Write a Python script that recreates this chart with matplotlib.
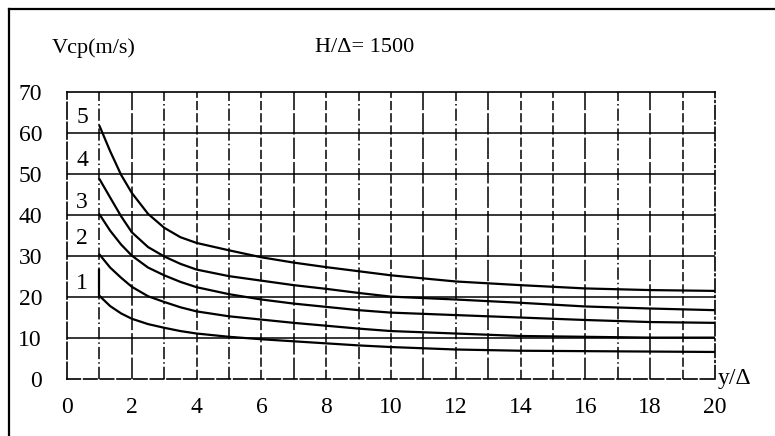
import numpy as np
import matplotlib
matplotlib.use('Agg')
import matplotlib.pyplot as plt
from matplotlib.lines import Line2D

plt.rcParams['font.family'] = ['Liberation Serif', 'DejaVu Serif']

# data
y_delta = [1, 1.33, 1.67, 2, 2.5, 3, 3.5, 4, 5, 6, 7, 8, 9, 10, 12, 14, 16, 18, 20]
v5 = [61.8, 55.6, 49.8, 45.4, 40.3, 36.9, 34.6, 33.2, 31.4, 29.7, 28.4, 27.3, 26.3, 25.3, 23.8, 22.9, 22.1, 21.7, 21.5]
v4 = [48.8, 44.3, 39.7, 35.8, 32.2, 29.9, 28.1, 26.7, 25.1, 24.0, 22.9, 22.0, 21.0, 20.1, 19.4, 18.6, 17.7, 17.2, 16.8]
v3 = [40.2, 36.2, 32.8, 30.1, 27.2, 25.3, 23.7, 22.4, 20.7, 19.4, 18.4, 17.6, 16.8, 16.2, 15.6, 15.0, 14.4, 13.9, 13.7]
v2 = [30.4, 27.2, 24.7, 22.5, 20.2, 18.8, 17.5, 16.5, 15.3, 14.5, 13.7, 13.0, 12.3, 11.7, 11.1, 10.5, 10.3, 10.1, 10.1]
v1 = [20.3, 17.8, 16.0, 14.7, 13.4, 12.5, 11.7, 11.1, 10.3, 9.7, 9.2, 8.7, 8.2, 7.8, 7.2, 6.9, 6.8, 6.7, 6.6]
v1_top = 26.5  # short vertical stroke where curve 1 starts
curve_names = ['1', '2', '3', '4', '5']
name_y = [23.4, 34.3, 43.1, 53.3, 63.7]
x_ticks = [0, 2, 4, 6, 8, 10, 12, 14, 16, 18, 20]
y_ticks = [0, 10, 20, 30, 40, 50, 60, 70]

fig = plt.figure(figsize=(7.75, 4.36), dpi=100)
ax = fig.add_axes([0.0865, 0.1307, 0.836, 0.658])

# grid: horizontal solid, vertical mostly broken
for yv in y_ticks[1:-1]:
    ax.axhline(yv, color='black', lw=1.1)
solid_x = [2, 7, 11, 13, 16, 18]
dashdot_x = [1, 3, 5, 9, 12, 17]
for xv in range(1, 20):
    if xv in solid_x:
        ls = (0, (14, 2))
    elif xv in dashdot_x:
        ls = (0, (8, 2, 1, 2))
    else:
        ls = (0, (6, 2))
    ax.axvline(xv, color='black', lw=1.1, linestyle=ls)

# curves
for v in [v1, v2, v3, v4, v5]:
    ax.plot(y_delta, v, color='black', lw=1.6, solid_joinstyle='round',
            solid_capstyle='round')
ax.plot([1, 1], [v1[0], v1_top], color='black', lw=1.6)

for name, ny in zip(curve_names, name_y):
    ax.text(0.46, ny, name, fontsize=17, ha='center', va='center')

ax.set_xlim(0, 20)
ax.set_ylim(0, 70)
ax.set_xticks(x_ticks)
ax.set_yticks(y_ticks)
ax.tick_params(length=0, labelsize=17)
ax.tick_params(axis='x', pad=13)
ax.tick_params(axis='y', pad=18)

ax.spines['top'].set_linewidth(1.3)
ax.spines['left'].set_linestyle((0, (10, 2)))
ax.spines['bottom'].set_linestyle((0, (8, 2)))
ax.spines['right'].set_linestyle((0, (8, 2, 1, 2)))
for s in ax.spines.values():
    s.set_linewidth(1.2)

fig.text(52 / 775, 1 - 48 / 436, 'Vcp(m/s)', fontsize=16, ha='left', va='center')
fig.text(315 / 775, 1 - 47 / 436, 'H/\u0394= 1500', fontsize=16, ha='left', va='center')
fig.text(718 / 775, 1 - 378 / 436, 'y/\u0394', fontsize=17, ha='left', va='center')

# outer frame (top and left edges)
fig.add_artist(Line2D([9 / 775, 1], [1 - 9 / 436, 1 - 9 / 436], color='black', lw=1.6))
fig.add_artist(Line2D([9 / 775, 9 / 775], [0, 1 - 9 / 436], color='black', lw=1.6))

fig.savefig('out.png', dpi=100)
